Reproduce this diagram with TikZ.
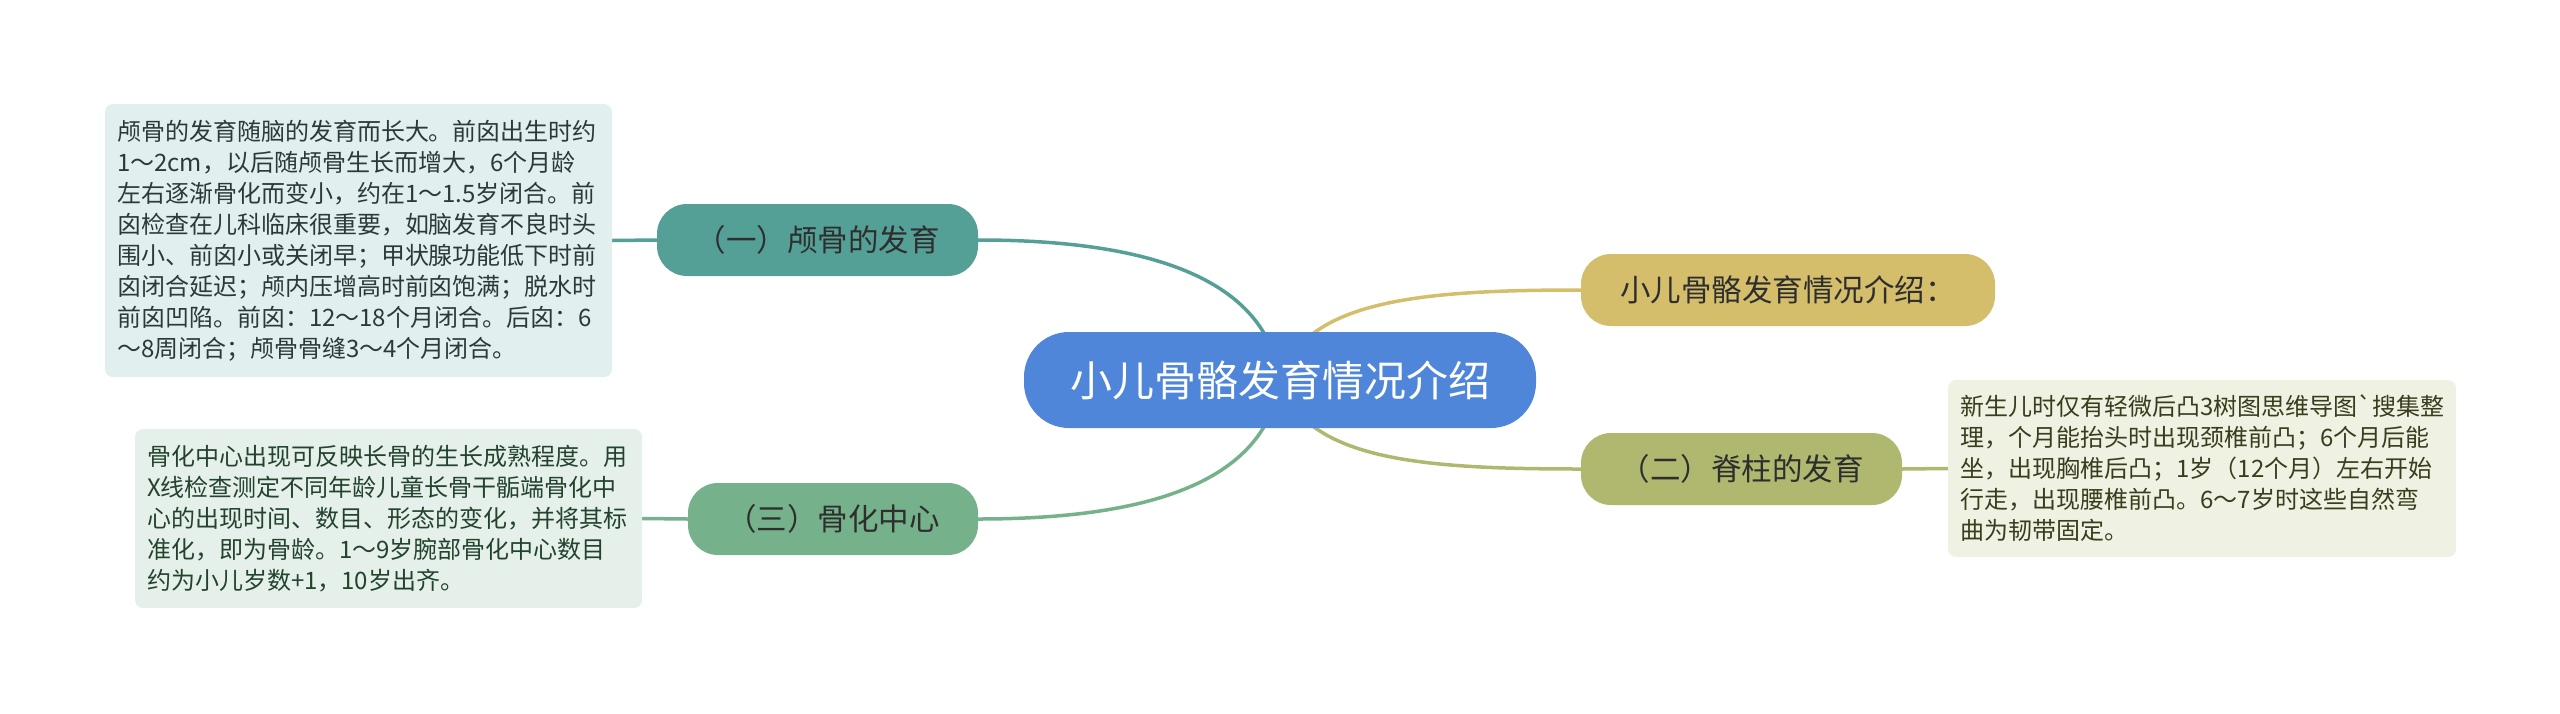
\documentclass[tikz,border=0pt]{standalone}
\usepackage{fontspec}
\newfontfamily\cjk{Noto Sans CJK SC}
\pgfdeclarelayer{background}
\pgfsetlayers{background,main}
\definecolor{cblue}{HTML}{4F86DA}
\definecolor{cteal}{HTML}{55A096}
\definecolor{cgreen}{HTML}{75B18A}
\definecolor{cgold}{HTML}{D4BE6C}
\definecolor{colive}{HTML}{AFB86E}
\definecolor{nteal}{HTML}{E1EFEE}
\definecolor{ngreen}{HTML}{E4F0E9}
\definecolor{nolive}{HTML}{EFF1E3}
\definecolor{tteal}{HTML}{2B3938}
\definecolor{tgreen}{HTML}{23432E}
\definecolor{tolive}{HTML}{3A3D1C}
\definecolor{tdark}{HTML}{2E2E2E}
\begin{document}
\begin{tikzpicture}[x=1pt,y=-1pt,
  notebox/.style={rectangle, rounded corners=8pt, inner xsep=12pt, inner ysep=0pt,
    text width=483pt, minimum width=507pt, align=left,
    font=\cjk\fontsize{24}{31}\selectfont},
  branchbox/.style={rectangle, rounded corners=30pt, inner sep=0pt, minimum height=72pt,
    text=tdark, font=\cjk\fontsize{30.5}{36}\selectfont},
  rootbox/.style={rectangle, rounded corners=45pt, inner sep=0pt, minimum height=96pt,
    minimum width=512pt, fill=cblue, text=white, font=\cjk\fontsize{42}{48}\selectfont},
  link/.style={line width=3.5pt},
  curvelink/.style={line width=3.5pt}
]
\useasboundingbox (0,0) rectangle (2560,713);

\node[rootbox] (c) at (1280,380) {小儿骨骼发育情况介绍};

\node[branchbox, fill=cteal, minimum width=321pt] (b1) at (817.5,240) {（一）颅骨的发育};
\node[branchbox, fill=cgreen, minimum width=290pt] (b3) at (833,519) {（三）骨化中心};
\node[branchbox, fill=cgold, minimum width=414pt] (g) at (1788,290) {小儿骨骼发育情况介绍：};
\node[branchbox, fill=colive, minimum width=321pt] (o) at (1741.5,469) {（二）脊柱的发育};

\node[notebox, fill=nteal, text=tteal, minimum height=273pt] (n1) at (358.5,240.5)
{颅骨的发育随脑的发育而长大。前囟出生时约\\
1～2cm，以后随颅骨生长而增大，6个月龄\\
左右逐渐骨化而变小，约在1～1.5岁闭合。前\\
囟检查在儿科临床很重要，如脑发育不良时头\\
围小、前囟小或关闭早；甲状腺功能低下时前\\
囟闭合延迟；颅内压增高时前囟饱满；脱水时\\
前囟凹陷。前囟：12～18个月闭合。后囟：6\\
～8周闭合；颅骨骨缝3～4个月闭合。};

\node[notebox, fill=ngreen, text=tgreen, minimum height=179pt] (n2) at (388.5,518.5)
{骨化中心出现可反映长骨的生长成熟程度。用\\
X线检查测定不同年龄儿童长骨干骺端骨化中\\
心的出现时间、数目、形态的变化，并将其标\\
准化，即为骨龄。1～9岁腕部骨化中心数目\\
约为小儿岁数+1，10岁出齐。};

\node[notebox, fill=nolive, text=tolive, minimum width=508pt, minimum height=177pt] (n3) at (2202,468.5)
{新生儿时仅有轻微后凸3树图思维导图`搜集整\\
理，个月能抬头时出现颈椎前凸；6个月后能\\
坐，出现胸椎后凸；1岁（12个月）左右开始\\
行走，出现腰椎前凸。6～7岁时这些自然弯\\
曲为韧带固定。};

\begin{pgfonlayer}{background}
  \draw[curvelink, cteal] (c.center) .. controls (1265,270) and (1130,240) .. (b1.east);
  \draw[curvelink, cgreen] (c.center) .. controls (1265,490) and (1130,519) .. (b3.east);
  \draw[curvelink, cgold] (c.center) .. controls (1305,300) and (1420,290) .. (g.west);
  \draw[curvelink, colive] (c.center) .. controls (1305,460) and (1420,469) .. (o.west);
  \draw[link, cteal] (b1.west) -- (n1.east);
  \draw[link, cgreen] (b3.west) -- (n2.east);
  \draw[link, colive] (o.east) -- (n3.west);
\end{pgfonlayer}
\end{tikzpicture}
\end{document}
